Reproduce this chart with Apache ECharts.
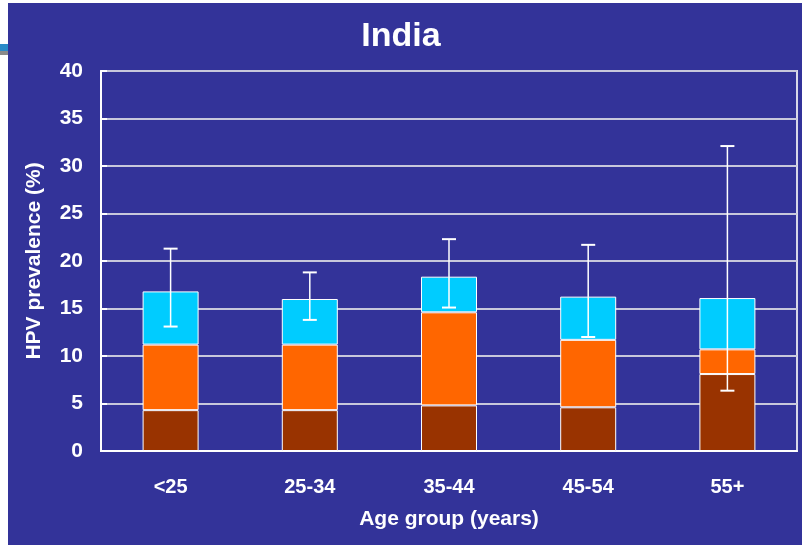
<!DOCTYPE html>
<html>
<head>
<meta charset="utf-8">
<script src="https://cdn.jsdelivr.net/npm/echarts@6/dist/echarts.min.js"></script>
<style>
html,body{margin:0;padding:0;background:#fff;}
#c{width:802px;height:545px;}
</style>
</head>
<body>
<div id="c"></div>
<script>
const categories = ['<25', '25-34', '35-44', '45-54', '55+'];
// stacked segments (HPV prevalence %)
const brownSeg  = [4.3, 4.3, 4.8, 4.6, 8.1];
const orangeSeg = [6.9, 6.9, 9.8, 7.1, 2.6];
const cyanSeg   = [5.6, 4.8, 3.75, 4.55, 5.4];
// 95% CI
const ciLow  = [13.1, 13.8, 15.1, 12.0, 6.35];
const ciHigh = [21.3, 18.8, 22.3, 21.7, 32.1];
const yTicks = [0, 5, 10, 15, 20, 25, 30, 35, 40];

const font = 'Liberation Sans, Arial, sans-serif';
const chart = echarts.init(document.getElementById('c'));

const errData = categories.map((c, i) => [i, ciLow[i], ciHigh[i]]);

const segStyle = (color) => ({ color: color, borderColor: '#ffffff', borderWidth: 1 });

chart.setOption({
  backgroundColor: '#333399',
  animation: false,
  title: {
    text: 'India',
    left: 'center',
    top: 15,
    textStyle: { color: '#fff', fontSize: 34, fontWeight: 'bold', fontFamily: font }
  },
  graphic: [
    { type: 'rect', left: 0, top: 0, shape: { width: 8, height: 545 }, style: { fill: '#ffffff' }, silent: true },
    { type: 'rect', left: 0, top: 0, shape: { width: 802, height: 3 }, style: { fill: '#ffffff' }, silent: true },
    { type: 'rect', left: 0, top: 44, shape: { width: 8, height: 7 }, style: { fill: '#2a8ac8' }, silent: true },
    { type: 'rect', left: 0, top: 51, shape: { width: 8, height: 4 }, style: { fill: '#8a8a8a' }, silent: true }
  ],
  grid: {
    left: 101, top: 71, width: 696, height: 380,
    show: true, borderColor: '#d8d8e8', borderWidth: 2, backgroundColor: 'transparent'
  },
  xAxis: {
    type: 'category',
    data: categories,
    name: 'Age group (years)',
    nameLocation: 'middle',
    nameGap: 58,
    nameTextStyle: { color: '#fff', fontSize: 21, fontWeight: 'bold', fontFamily: font },
    axisLine: { lineStyle: { color: '#ffffff', width: 2 } },
    axisTick: { show: false },
    axisLabel: { color: '#fff', fontSize: 20, fontWeight: 'bold', fontFamily: font, margin: 26 }
  },
  yAxis: {
    type: 'value',
    min: 0, max: 40, interval: 5,
    name: 'HPV prevalence (%)',
    nameLocation: 'middle',
    nameRotate: 90,
    nameGap: 56,
    nameTextStyle: { color: '#fff', fontSize: 21, fontWeight: 'bold', fontFamily: font },
    axisLine: { show: true, lineStyle: { color: '#ffffff', width: 2 } },
    axisTick: { show: true, inside: true, length: 6, lineStyle: { color: '#ffffff', width: 2 } },
    axisLabel: {
      color: '#fff', fontSize: 21, fontWeight: 'bold', fontFamily: font, margin: 18,
      formatter: (v) => yTicks.includes(v) ? String(v) : ''
    },
    splitLine: { show: true, lineStyle: { color: '#c8c8dc', width: 2 } }
  },
  series: [
    { type: 'bar', stack: 'hpv', data: brownSeg, barWidth: 56, itemStyle: segStyle('#993300') },
    { type: 'bar', stack: 'hpv', data: orangeSeg, barWidth: 56, itemStyle: segStyle('#FF6600') },
    { type: 'bar', stack: 'hpv', data: cyanSeg, barWidth: 56, itemStyle: segStyle('#00CCFF') },
    {
      type: 'custom',
      z: 10,
      data: errData,
      encode: { x: 0, y: [1, 2] },
      renderItem: function (params, api) {
        const x = api.value(0);
        const lo = api.coord([x, api.value(1)]);
        const hi = api.coord([x, api.value(2)]);
        const hw = 7;
        const st = { stroke: '#ffffff', lineWidth: 1.5 };
        const cap = { stroke: '#ffffff', lineWidth: 2 };
        return {
          type: 'group',
          children: [
            { type: 'line', shape: { x1: lo[0], y1: lo[1], x2: hi[0], y2: hi[1] }, style: st },
            { type: 'line', shape: { x1: hi[0] - hw, y1: hi[1], x2: hi[0] + hw, y2: hi[1] }, style: cap },
            { type: 'line', shape: { x1: lo[0] - hw, y1: lo[1], x2: lo[0] + hw, y2: lo[1] }, style: cap }
          ]
        };
      }
    }
  ]
});
</script>
</body>
</html>
